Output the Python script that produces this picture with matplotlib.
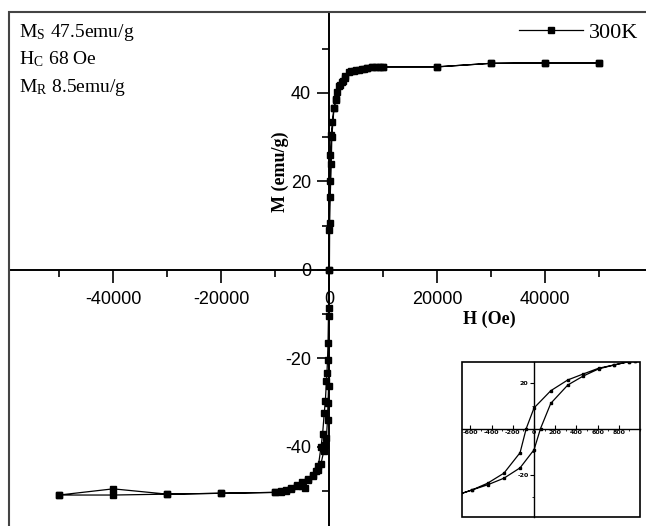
import matplotlib.pyplot as plt
from matplotlib.patches import Rectangle
from matplotlib.ticker import MultipleLocator

plt.rcParams['axes.unicode_minus'] = False

# main loop, 300 K (descending branch then ascending branch)
h_down = [50000, 40000, 30000, 20000, 10000, 9000, 8000, 7000, 6000, 5000, 4000,
          3000, 2500, 2000, 1500, 1200, 900, 600, 400, 200, 100, 0, -50, -100,
          -200, -300, -400, -500, -700, -900, -1200, -1500, -2000, -2500, -3000,
          -4000, -5000, -6000, -7000, -8000, -9000, -10000, -20000, -30000,
          -40000, -50000]
m_down = [46.8, 46.8, 46.7, 45.9, 45.9, 45.9, 45.8, 45.7, 45.5, 45.1, 44.9,
          43.8, 42.8, 41.7, 40.2, 38.6, 36.6, 33.5, 30.5, 26.0, 20.0, 9.0, 0.0,
          -8.7, -16.5, -20.3, -23.3, -25.2, -29.7, -32.3, -37.0, -40.0, -44.4,
          -45.5, -46.3, -47.2, -48.0, -48.9, -49.5, -49.9, -50.3, -50.3, -50.5,
          -50.7, -49.5, -50.9]
h_up = [-50000, -40000, -30000, -20000, -10000, -9000, -8000, -7000, -6000,
        -5000, -4400, -4000, -3000, -2000, -1500, -1000, -700, -500, -300,
        -200, -100, 0, 50, 100, 200, 400, 500, 900, 1300, 1800, 2300, 2900,
        3700, 4700, 5500, 6400, 7100, 8000, 8600, 9500, 10000, 20000, 30000,
        40000, 50000]
m_up = [-50.9, -50.9, -50.7, -50.5, -50.3, -50.1, -49.8, -49.4, -48.7, -48.9,
        -49.2, -47.6, -46.5, -45.2, -43.8, -41.0, -39.5, -37.9, -33.9, -30.0,
        -26.3, -10.5, 0.0, 10.6, 16.5, 24.0, 30.0, 36.6, 38.5, 41.5, 42.5,
        43.3, 44.8, 44.9, 45.1, 45.5, 45.7, 45.9, 45.9, 45.9, 45.9, 45.9,
        46.7, 46.8, 46.8]

# inset: low field part of the loop
ih_down = [950, 900, 755, 610, 465, 319, 158, 0, -74, -132, -284, -439, -584, -700]
im_down = [29.5, 29.2, 27.7, 26.3, 23.8, 21.2, 16.5, 9.0, 0.0, -10.5, -19.4,
           -23.8, -26.7, -28.5]
ih_up = [-700, -584, -439, -284, -132, 0, 61, 158, 319, 465, 610, 755, 900, 950]
im_up = [-28.5, -26.7, -24.5, -21.6, -17.1, -9.2, 0.0, 11.0, 19.0, 22.9, 26.0,
         27.7, 29.2, 29.5]

fig = plt.figure(figsize=(6.46, 5.26), dpi=100)
ax = fig.add_axes([9 / 646, 0, 637 / 646, 514 / 526])
ax.patch.set_alpha(0)

ax.plot(h_down + h_up, m_down + m_up, color='black', lw=0.9, marker='s',
        markersize=4, label='300K')
ax.set_xlim(-59300, 58700)
ax.set_ylim(-57.9, 58.3)

for s in ['top', 'right']:
    ax.spines[s].set_visible(False)
for s in ['left', 'bottom']:
    ax.spines[s].set_position('zero')
    ax.spines[s].set_linewidth(1.4)

ax.xaxis.set_major_locator(MultipleLocator(20000))
ax.xaxis.set_minor_locator(MultipleLocator(10000))
ax.yaxis.set_major_locator(MultipleLocator(20))
ax.yaxis.set_minor_locator(MultipleLocator(10))
ax.tick_params(which='major', length=9, width=1.2, labelsize=13,
               labelfontfamily='Liberation Sans')
ax.tick_params(which='minor', length=5, width=1.2)
ax.tick_params(axis='x', direction='out', pad=6)
ax.tick_params(axis='y', direction='out', pad=4)
ax.set_xticks([-40000, -20000, 0, 20000, 40000])
ax.set_xticklabels(['-40000', '-20000', '0', '20000', '40000'])

ax.text(-9070, 22.1, 'M (emu/g)', rotation=90, ha='center', va='center',
        family='Liberation Serif', fontweight='bold', fontsize=13)
ax.text(29630, -11.1, 'H (Oe)', ha='center', va='center',
        family='Liberation Serif', fontweight='bold', fontsize=13)

ax.legend(loc='center right', bbox_to_anchor=(638 / 646, 1 - 33 / 526),
          bbox_transform=fig.transFigure, frameon=False,
          prop={'family': 'Liberation Serif', 'size': 16}, handlelength=2.9,
          handletextpad=0.25, borderaxespad=0, borderpad=0)

# outer frame
fig.patches.append(Rectangle((9 / 646, -0.01), 1.0, 514 / 526 + 0.01,
                             transform=fig.transFigure, fill=False,
                             edgecolor='#444444', lw=1.5))

info = [r'M$_\mathregular{S}$ 47.5emu/g', r'H$_\mathregular{C}$ 68 Oe',
        r'M$_\mathregular{R}$ 8.5emu/g']
for i, t in enumerate(info):
    fig.text(19 / 646, 1 - (37 + 27.5 * i) / 526, t, ha='left', va='baseline',
             family='Liberation Serif', fontsize=14,
             math_fontfamily='stix')

# inset
axi = fig.add_axes([462 / 646, 9 / 526, 178 / 646, 155 / 526])
axi.plot(ih_down + ih_up, im_down + im_up, color='black', lw=0.9, marker='s',
         markersize=2)
axi.set_xlim(-680, 1000)
axi.set_ylim(-38.5, 29)
for s in ['top', 'right']:
    axi.spines[s].set_visible(False)
for s in ['left', 'bottom']:
    axi.spines[s].set_position('zero')
    axi.spines[s].set_linewidth(1.0)
axi.add_patch(Rectangle((0, 0), 1, 1, transform=axi.transAxes, fill=False,
                        edgecolor='black', lw=1.2, clip_on=False))
axi.set_xticks([-600, -400, -200, 0, 200, 400, 600, 800])
axi.xaxis.set_minor_locator(MultipleLocator(100))
axi.set_yticks([-20, 20])
axi.yaxis.set_minor_locator(MultipleLocator(10))
axi.tick_params(which='major', length=3, width=0.8, labelsize=4.5, pad=1)
axi.tick_params(which='minor', length=1.5, width=0.6)
axi.tick_params(axis='x', direction='in')
for lb in axi.get_xticklabels() + axi.get_yticklabels():
    lb.set_fontweight('bold')

fig.savefig('out.png', dpi=100)
